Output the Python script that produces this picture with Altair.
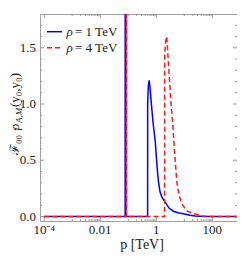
import altair as alt
import pandas as pd

# ---- data ----
blue_p = [1e-4, 0.0774, 0.0778, 0.0782, 0.0800, 0.490, 0.492, 0.52, 0.555, 0.59,
          0.647, 0.762, 0.921, 1.077, 1.179, 1.356, 1.598, 2.045, 2.84, 4.05,
          5.95, 9.2, 16, 24, 55, 1000]
blue_v = [0, 0, 3.0, 0.01, 0, 0, 1.0, 1.16, 1.21, 1.16,
          1.04, 0.84, 0.66, 0.43, 0.32, 0.22, 0.17, 0.13, 0.075, 0.047,
          0.033, 0.024, 0.012, 0.005, 0.001, 0]

red_p = [1e-4, 0.0857, 0.0862, 0.0867, 0.088, 1.985, 1.99, 2.08, 2.22, 2.35,
         2.48, 2.62, 3.27, 3.95, 4.64, 5.05, 5.34, 6.45, 8.27, 12.2,
         20.4, 46.4, 97, 1000]
red_v = [0, 0, 3.0, 0.01, 0, 0, 1.40, 1.52, 1.58, 1.60,
         1.52, 1.42, 1.04, 0.79, 0.52, 0.41, 0.32, 0.19, 0.11, 0.05,
         0.027, 0.005, 0.001, 0]

legend_labels = ["ρ", "= 1 TeV", "= 4 TeV"]
x_major = [1e-4, 1e-2, 1, 100]
x_major_labels = ["10⁻⁴", "0.01", "1", "100"]
x_minor = [k * 10.0 ** e for e in (-3, -1, 1) for k in range(1, 10)] + [1000]
y_major = [0.0, 0.5, 1.0, 1.5]
y_major_labels = ["0.0", "0.5", "1.0", "1.5"]
y_minor = [0.1, 0.2, 0.3, 0.4, 0.6, 0.7, 0.8, 0.9, 1.1, 1.2, 1.3, 1.4, 1.6, 1.7]
x_title = "p [TeV]"

W, H = 197, 207
SERIF = "Liberation Serif"
TXT = "#1a1a1a"
TICK = "#9a9a9a"

xscale = alt.Scale(type="log", domain=[10 ** -4.15, 10 ** 2.88], nice=False)
yscale = alt.Scale(domain=[-0.04, 1.80], nice=False, zero=False)

df_blue = pd.DataFrame({"p": blue_p, "v": blue_v})
df_red = pd.DataFrame({"p": red_p, "v": red_v})

blue = alt.Chart(df_blue).mark_line(color="#0000ff", strokeWidth=1.5, clip=True).encode(
    x=alt.X("p:Q", scale=xscale, axis=None),
    y=alt.Y("v:Q", scale=yscale, axis=None),
    order="p:Q")
red = alt.Chart(df_red).mark_line(color="#ff1a1a", strokeWidth=1.5, strokeDash=[5, 3], clip=True).encode(
    x=alt.X("p:Q", scale=xscale, axis=None),
    y=alt.Y("v:Q", scale=yscale, axis=None),
    order="p:Q")

def xticks(vals, length):
    d = pd.DataFrame({"t": vals})
    b = alt.Chart(d).mark_rule(color=TICK, strokeWidth=1, clip=True).encode(
        x=alt.X("t:Q", scale=xscale, axis=None), y=alt.value(H), y2=alt.value(H - length))
    t = alt.Chart(d).mark_rule(color=TICK, strokeWidth=1, clip=True).encode(
        x=alt.X("t:Q", scale=xscale, axis=None), y=alt.value(0), y2=alt.value(length))
    return [b, t]

def yticks(vals, length):
    d = pd.DataFrame({"t": vals})
    l = alt.Chart(d).mark_rule(color=TICK, strokeWidth=1).encode(
        y=alt.Y("t:Q", scale=yscale, axis=None), x=alt.value(0), x2=alt.value(length))
    r = alt.Chart(d).mark_rule(color=TICK, strokeWidth=1).encode(
        y=alt.Y("t:Q", scale=yscale, axis=None), x=alt.value(W), x2=alt.value(W - length))
    return [l, r]

tick_layers = xticks(x_major, 4) + xticks(x_minor, 2) + yticks(y_major, 4) + yticks(y_minor, 2)

# tick labels drawn through the scales
xlab = alt.Chart(pd.DataFrame({"t": x_major, "s": x_major_labels})).mark_text(
    align="center", baseline="alphabetic", font=SERIF, fontSize=13, color=TXT).encode(
    x=alt.X("t:Q", scale=xscale, axis=None), y=alt.value(H + 13), text="s:N")
ylab = alt.Chart(pd.DataFrame({"t": y_major, "s": y_major_labels})).mark_text(
    align="right", baseline="middle", font=SERIF, fontSize=13, color=TXT).encode(
    y=alt.Y("t:Q", scale=yscale, axis=None), x=alt.value(-4), text="s:N")
xtitle = alt.Chart(pd.DataFrame({"s": [x_title]})).mark_text(
    align="center", baseline="alphabetic", font=SERIF, fontSize=14, color=TXT).encode(
    x=alt.value(102), y=alt.value(H + 28), text="s:N")

# legend
def leg_line(y, **kw):
    return alt.Chart(pd.DataFrame({"s": [legend_labels[0]]})).mark_rule(strokeWidth=1.5, **kw).encode(
        x=alt.value(7), x2=alt.value(22), y=alt.value(y))
def leg_text(label, x, y, italic=False):
    return alt.Chart(pd.DataFrame({"s": [label]})).mark_text(
        align="left", baseline="middle", font=SERIF, fontSize=13, color=TXT,
        fontStyle="italic" if italic else "normal").encode(
        text="s:N", x=alt.value(x), y=alt.value(y))

legend_layers = [
    leg_line(17.7, color="#0000ff"),
    leg_line(33.7, color="#ff1a1a", strokeDash=[5, 3]),
    leg_text(legend_labels[0], 26.5, 17.7, True),
    leg_text(legend_labels[1], 35, 17.7),
    leg_text(legend_labels[0], 26.5, 33.7, True),
    leg_text(legend_labels[2], 35, 33.7),
]

# rotated y title in pieces
def ytitle(label, x, y, size=13, italic=False):
    return alt.Chart(pd.DataFrame({"s": [label]})).mark_text(
        align="left", baseline="alphabetic", angle=270, font=SERIF, fontSize=size,
        color=TXT, fontStyle="italic" if italic else "normal").encode(
        text="s:N", x=alt.value(x), y=alt.value(y))

TX = -21
ytitle_layers = [
    ytitle("ℱ₀₀ · ", TX, 141),
    ytitle("ρ", TX, 116, italic=True),
    ytitle("A,M", TX + 3, 109, size=9, italic=True),
    ytitle("(y₀,y₀)", TX, 93),
]

chart = alt.layer(*tick_layers, blue, red, xlab, ylab, xtitle, *legend_layers, *ytitle_layers).properties(
    width=W, height=H,
    autosize=alt.AutoSizeParams(type="none"),
    padding={"left": 32, "top": 6, "right": 0, "bottom": 31},
).configure_view(stroke="#a0a0a0", strokeWidth=1)

chart.save("out.html", embed_options={"renderer": "svg", "actions": False})
